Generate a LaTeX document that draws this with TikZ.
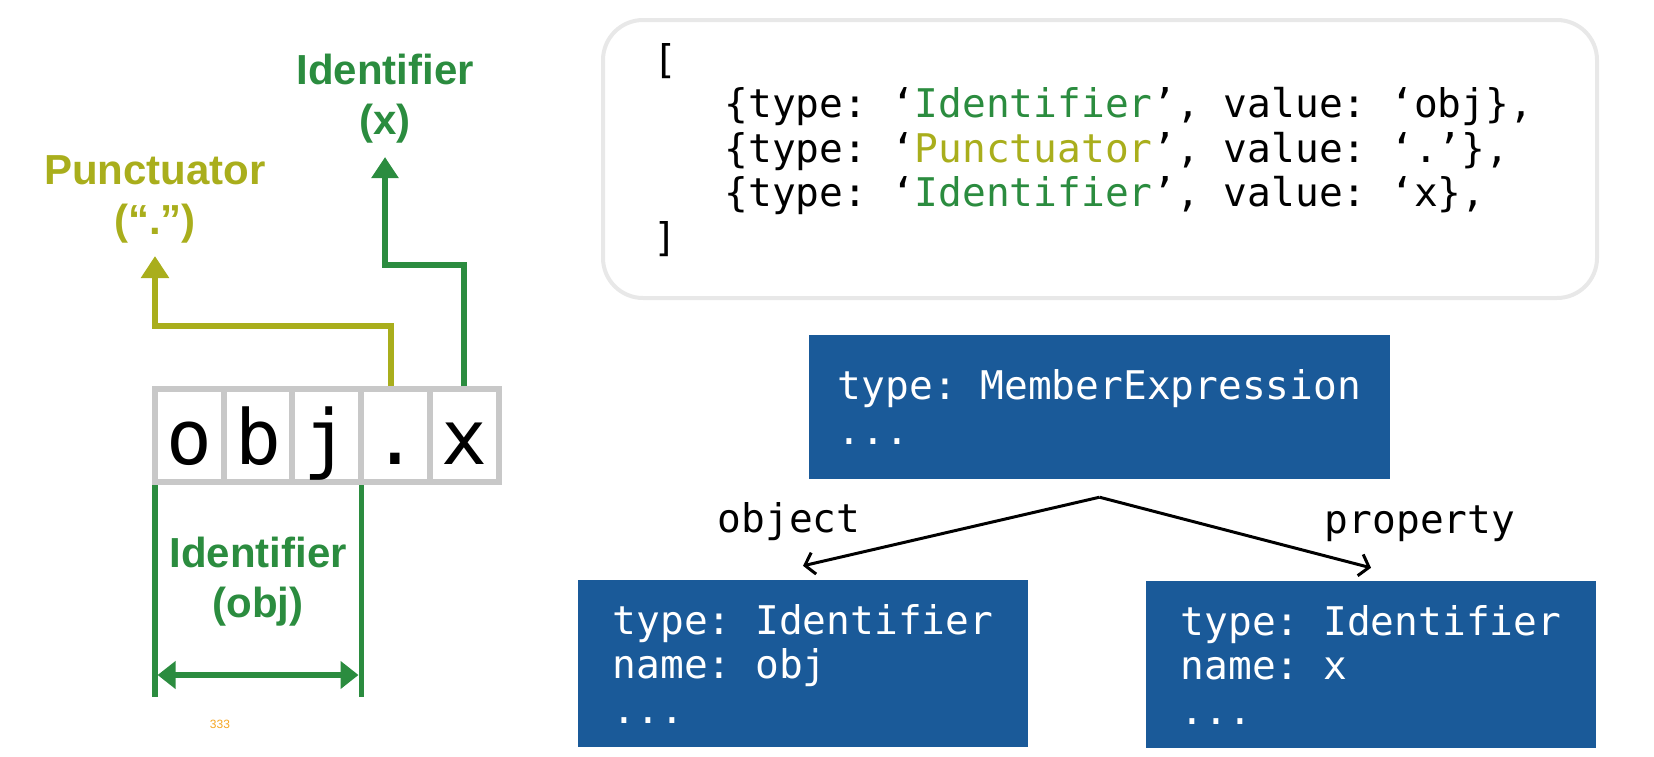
\documentclass[tikz,border=0pt]{standalone}
\usepackage{fontspec}
\setmainfont{Liberation Sans}
\newfontfamily\codefont{DejaVu Sans Mono}
\usetikzlibrary{positioning,arrows.meta}
\frenchspacing

\definecolor{idgreen}{HTML}{2B8C3F}
\definecolor{punctolive}{HTML}{A9AE1C}
\definecolor{cellgray}{HTML}{C8C8C8}
\definecolor{astblue}{HTML}{1A5A99}
\definecolor{pagenum}{HTML}{F5A623}
\definecolor{shadowgray}{HTML}{E8E8E8}

\tikzset{
  cellbox/.style={draw=cellgray, line width=6pt, minimum width=68.7pt, minimum height=93pt,
    inner sep=0pt, outer sep=0pt, font=\fontsize{76pt}{80pt}\codefont,
    text height=57pt, text depth=0pt},
  tokenlabel/.style={font=\fontsize{42pt}{50pt}\selectfont\bfseries, align=center, inner sep=0pt},
  idarrow/.style={draw=idgreen, line width=5.5pt, -{Triangle[length=21pt,width=26pt]}},
  punctarrow/.style={draw=punctolive, line width=5.5pt, -{Triangle[length=22pt,width=27pt]}},
  idspan/.style={draw=idgreen, line width=5.3pt},
  codebox/.style={draw=shadowgray, line width=4pt, fill=white, rounded corners=40pt,
    minimum width=994pt, minimum height=278pt},
  codetext/.style={font=\fontsize{39.5pt}{44.5pt}\codefont\frenchspacing, align=left, inner sep=0pt},
  astnode/.style={fill=astblue, text=white, font=\fontsize{39.5pt}{44.5pt}\codefont\frenchspacing,
    align=left, inner sep=0pt},
  astedge/.style={line width=3pt, -{Straight Barb[length=9pt,width=22pt]}},
  edgelabel/.style={font=\fontsize{39.5pt}{44.5pt}\codefont, inner sep=0pt, anchor=base},
}

\begin{document}
\begin{tikzpicture}[x=1pt,y=-1pt]
  \useasboundingbox (0,0) rectangle (1654,756);

  % token list
  \node[codebox] (tokens) at (1100,159) {};
  \node[codetext, anchor=north west] (tokenlist) at (653,43) {[\\
    \hphantom{aaa}\{type: ‘{\color{idgreen}Identifier}’, value: ‘obj\},\\
    \hphantom{aaa}\{type: ‘{\color{punctolive}Punctuator}’, value: ‘.’\},\\
    \hphantom{aaa}\{type: ‘{\color{idgreen}Identifier}’, value: ‘x\},\\
    ]};

  % source characters
  \node[cellbox] (o) at (189.4,435.5) {o};
  \node[cellbox, right=0pt of o] (b) {b};
  \node[cellbox, right=0pt of b] (j) {j};
  \node[cellbox, right=0pt of j] (dot) {.};
  \node[cellbox, right=0pt of dot] (x) {x};

  % token labels
  \node[tokenlabel, anchor=south, inner ysep=14pt, text=idgreen] (idx) at (385,157) {Identifier\\(x)};
  \node[tokenlabel, anchor=south, inner ysep=13pt, text=punctolive] (punct) at (155,256) {Punctuator\\(“.”)};
  \node[tokenlabel, anchor=north, text=idgreen] (idobj) at (258,537) {Identifier\\(obj)};

  \draw[punctarrow, shorten <=3pt] ([xshift=-4.5pt]dot.north) -- ++(0,-63) -| (punct.south);
  \draw[idarrow, shorten <=3pt] (x.north) -- ++(0,-124) -| (idx.south);

  % span of obj
  \coordinate (spanL) at (155,697);
  \coordinate (arrL) at (157.6,675);
  \coordinate (arrR) at (358.5,675);
  \draw[idspan, shorten <=3pt] (o.south west) -- (o.south west |- spanL);
  \draw[idspan, shorten <=3pt] (j.south east) -- (j.south east |- spanL);
  \draw[idspan, {Triangle[length=18pt,width=27pt]}-{Triangle[length=18pt,width=27pt]}] (arrL) -- (arrR);

  \node[font=\fontsize{12pt}{14pt}\selectfont, text=pagenum, anchor=base, inner sep=0pt] (pageno) at (220,728) {333};

  % syntax tree
  \node[astnode, minimum width=581pt, minimum height=144pt] (member) at (1099.5,407)
    {type: MemberExpression\\...};
  \node[astnode, minimum width=450pt, minimum height=167pt] (objnode) at (803,663.5)
    {type: Identifier\\name: obj\\...};
  \node[astnode, minimum width=450pt, minimum height=167pt] (propnode) at (1371,664.5)
    {type: Identifier\\name: x\\...};

  \coordinate (fork) at ([yshift=-18pt]member.south);
  \draw[astedge] (fork) -- ([yshift=14pt]objnode.north);
  \draw[astedge] (fork) -- ([yshift=13pt]propnode.north);
  \node[edgelabel] (objlbl) at (789,532) {object};
  \node[edgelabel] (proplbl) at (1420,533) {property};
\end{tikzpicture}
\end{document}
